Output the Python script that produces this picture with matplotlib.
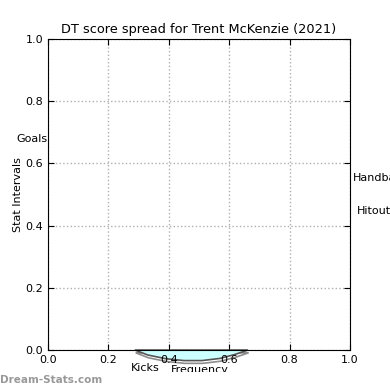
import matplotlib
matplotlib.use("Agg")
import matplotlib.pyplot as plt
import matplotlib.patheffects as pe

title = "DT score spread for Trent McKenzie (2021)"
ticks = [0.0, 0.2, 0.4, 0.6, 0.8, 1.0]

# outline of the spread shape (data coords, mostly below the x axis)
shape_x = [0.288, 0.33, 0.39, 0.45, 0.51, 0.57, 0.62, 0.662]
shape_y = [0.0, -0.016, -0.028, -0.034, -0.034, -0.027, -0.014, 0.0]

stat_names = ["Goals", "Handball", "Hitout", "Kicks", "Frequency"]
stat_x = [-0.003, 1.01, 1.023, 0.275, 0.407]
stat_y = [0.68, 0.553, 0.447, -0.058, -0.064]
stat_ha = ["right", "left", "left", "left", "left"]

fig = plt.figure(figsize=(3.9, 3.9), dpi=100)
ax = fig.add_axes([48/390, 40/390, 302/390, 311/390])
ax.set_xlim(0, 1)
ax.set_ylim(0, 1)
ax.set_xticks(ticks)
ax.set_yticks(ticks)
ax.tick_params(direction="in", top=True, right=True, labelsize=8, length=4)
ax.grid(True, color="#b0b0b0", linestyle=":", linewidth=1)
ax.set_title(title, fontsize=9.3, pad=4)
ax.set_ylabel("Stat Intervals", fontsize=8, labelpad=2)

ax.fill(shape_x, shape_y, facecolor="#ccffff", edgecolor="#555555", linewidth=1.2,
        clip_on=False, zorder=1,
        path_effects=[pe.SimpleLineShadow(offset=(0.5, -2), shadow_color="gray", alpha=0.9),
                      pe.Normal()])

for name, x, y, ha in zip(stat_names, stat_x, stat_y, stat_ha):
    ax.text(x, y, name, fontsize=8, ha=ha, va="center", clip_on=False)

# white strip at the bottom with the watermark
fig.patches.append(plt.Rectangle((0, 0), 1, 18/390, transform=fig.transFigure,
                                 facecolor="white", edgecolor="none", zorder=10))
fig.text(0.0, 10/390, "Dream-Stats.com", fontsize=7.5, color="#999999",
         fontweight="bold", va="center", ha="left", zorder=11)

fig.savefig("out.png", dpi=100)
